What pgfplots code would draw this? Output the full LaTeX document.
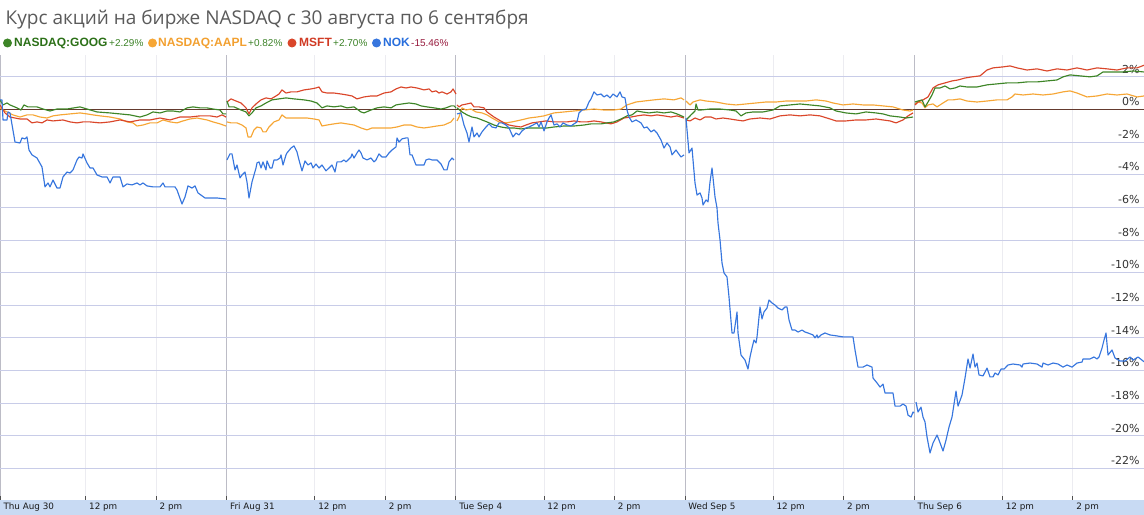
\documentclass[border=0pt]{standalone}
\usepackage{pgfplots}
\pgfplotsset{compat=1.18}
\usepackage{fontspec}
\setmainfont{DejaVu Sans}
\newfontfamily\titlefont{Open Sans}
\newfontfamily\arial{Liberation Sans}
\definecolor{goog}{RGB}{61,133,39}
\definecolor{aapl}{RGB}{246,166,53}
\definecolor{msft}{RGB}{218,70,42}
\definecolor{nok}{RGB}{55,118,222}
\definecolor{googtxt}{RGB}{44,112,24}
\definecolor{aapltxt}{RGB}{242,160,48}
\definecolor{msfttxt}{RGB}{208,58,36}
\definecolor{noktxt}{RGB}{40,110,220}
\definecolor{pctgreen}{RGB}{60,130,40}
\definecolor{pctred}{RGB}{150,25,60}
\definecolor{band}{RGB}{200,218,243}
\definecolor{hgrid}{RGB}{200,204,232}
\definecolor{daygrid}{RGB}{188,188,198}
\definecolor{hourgrid}{RGB}{236,236,241}
\definecolor{zerocol}{RGB}{100,58,46}
\definecolor{tickgray}{RGB}{80,80,80}
\definecolor{titlegray}{RGB}{90,90,90}
\begin{document}
\begin{tikzpicture}[x=1bp,y=1bp]
\fill[band] (0,-15) rectangle (1144,0);
\begin{axis}[
  at={(0,0)}, anchor=south west,
  scale only axis, width=1144bp, height=445bp,
  xmin=0, xmax=1144, ymin=-23.93, ymax=3.33,
  axis line style={draw=none},
  unbounded coords=jump,
  xtick={85.65,156.15,314.8,385.3,543.95,614.45,773.1,843.6,1002.25,1072.75},
  xticklabels={12 pm,2 pm,12 pm,2 pm,12 pm,2 pm,12 pm,2 pm,12 pm,2 pm},
  extra x ticks={0,226.65,455.8,684.95,914.1},
  extra x tick labels={Thu Aug 30,Fri Aug 31,Tue Sep 4,Wed Sep 5,Thu Sep 6},
  extra x tick style={grid=major, major grid style={draw=daygrid, line width=0.8bp}},
  xmajorgrids,
  major grid style={draw=hourgrid, line width=0.8bp},
  xtick pos=left, tick align=inside, major tick length=4bp,
  xtick style={draw=tickgray, line width=0.8bp},
  xticklabel style={font=\fontsize{8.8bp}{10bp}\selectfont, anchor=west, yshift=-7.5bp, text=black!90},
  ytick=\empty,
  extra y ticks={-22,-20,-18,-16,-14,-12,-10,-8,-6,-4,-2,0,2},
  extra y tick labels={-22\%,-20\%,-18\%,-16\%,-14\%,-12\%,-10\%,-8\%,-6\%,-4\%,-2\%,0\%,2\%},
  extra y tick style={grid=major, major grid style={draw=hgrid, line width=0.8bp}, tick style={draw=none}},
  yticklabel pos=right,
  yticklabel style={font=\fontsize{11bp}{12bp}\selectfont, anchor=south east, xshift=-1bp, text=black!80},
  every axis plot/.append style={line width=1.15bp, line join=round},
]
\draw[zerocol, line width=1bp] (axis cs:0,0) -- (axis cs:1144,0);
% AAPL
\addplot[aapl] coordinates {
(0,0.09) (3,-0.04) (7,-0.16) (13,-0.34) (20,-0.47) (27,-0.34) (33,-0.34) (40,-0.47) (47,-0.53) (53,-0.40) (60,-0.34) (70,-0.28) (80,-0.22) (87,-0.28) (93,-0.34) (100,-0.40) (110,-0.47) (120,-0.59) (127,-0.77) (133,-0.83) (137,-1.02) (143,-0.96) (150,-0.83) (157,-0.83) (163,-0.65) (170,-0.77) (177,-0.83) (183,-0.71) (190,-0.59) (197,-0.53) (207,-0.65) (213,-0.77) (220,-0.89) (226,-1.02)
(226.5,nan)
(227,-0.77) (231,-0.83) (237,-0.83) (242,-0.96) (246,-1.14) (248,-1.69) (251,-1.69) (254,-1.26) (257,-1.08) (261,-1.14) (263,-1.38) (266,-1.38) (269,-1.08) (274,-0.77) (279,-0.65) (282,-0.34) (286,-0.53) (291,-0.53) (297,-0.53) (307,-0.53) (314,-0.59) (319,-0.65) (322,-1.02) (327,-0.96) (334,-0.89) (341,-0.83) (347,-0.89) (354,-0.96) (361,-1.14) (367,-1.26) (372,-1.14) (377,-1.14) (384,-1.14) (391,-1.14) (397,-1.08) (404,-0.96) (411,-0.96) (417,-1.08) (424,-1.14) (431,-1.08) (437,-1.02) (444,-0.96) (451,-0.77) (454,-0.53)
(455.5,nan)
(457,-0.71) (459,-0.47) (462,0.09) (466,-0.04) (471,0.02) (476,-0.16) (482,-0.22) (487,-0.34) (492,-0.53) (499,-0.77) (506,-0.83) (512,-0.77) (521,-0.65) (529,-0.53) (537,-0.47) (544,-0.40) (554,-0.22) (564,-0.16) (574,-0.10) (584,-0.04) (594,0.02) (604,-0.04) (614,-0.04) (621,0.02) (627,0.27) (636,0.45) (644,0.51) (654,0.58) (664,0.64) (674,0.58) (681,0.70) (684,0.58)
(685,nan)
(686,0.51) (690,0.27) (693,0.45) (700,0.58) (706,0.51) (716,0.45) (726,0.33) (736,0.27) (746,0.33) (756,0.39) (766,0.45) (776,0.45) (786,0.51) (796,0.51) (806,0.51) (816,0.58) (826,0.51) (833,0.39) (843,0.27) (853,0.33) (863,0.27) (873,0.27) (883,0.21) (893,0.15) (903,-0.04) (910,-0.10) (913,-0.04)
(914,nan)
(915,0.33) (918,0.45) (922,0.39) (925,0.09) (928,0.27) (933,0.33) (937,0.15) (940,0.27) (943,0.39) (948,0.58) (953,0.58) (960,0.64) (967,0.51) (977,0.45) (987,0.51) (997,0.58) (1007,0.58) (1012,0.76) (1015,0.94) (1023,0.88) (1033,0.94) (1043,0.88) (1053,0.94) (1063,1.07) (1070,1.13) (1077,1.00) (1087,0.76) (1097,0.82) (1107,0.94) (1117,0.88) (1127,0.94) (1137,0.76) (1144,0.82)
};
% MSFT
\addplot[msft] coordinates {
(0,0.27) (5,-0.22) (10,-0.47) (20,-0.59) (27,-0.59) (32,-0.83) (37,-0.77) (42,-0.83) (47,-0.65) (53,-0.71) (63,-0.65) (70,-0.77) (77,-0.83) (83,-0.77) (90,-0.77) (100,-0.83) (110,-0.77) (120,-0.65) (130,-0.77) (140,-0.65) (150,-0.65) (160,-0.53) (170,-0.65) (180,-0.47) (190,-0.47) (200,-0.40) (210,-0.40) (217,-0.47) (222,-0.34) (226,-0.47)
(226.5,nan)
(227,0.45) (231,0.64) (236,0.51) (241,0.39) (246,0.09) (249,-0.28) (252,0.09) (256,0.33) (261,0.58) (266,0.70) (271,0.64) (276,0.82) (279,0.94) (282,1.19) (286,1.00) (291,1.07) (297,1.07) (304,1.19) (311,1.25) (316,1.31) (319,1.37) (322,1.07) (327,1.00) (334,1.00) (341,0.94) (347,0.88) (352,0.82) (357,0.64) (364,0.76) (371,0.82) (377,0.82) (384,1.00) (391,1.07) (396,1.25) (401,1.37) (406,1.31) (411,1.37) (417,1.31) (424,1.19) (429,1.25) (432,1.07) (436,1.13) (439,1.00) (442,1.07) (447,0.94) (451,1.07) (453,1.25) (456,0.94)
(456.5,nan)
(457,0.27) (459,0.15) (462,0.27) (467,0.33) (471,0.39) (474,0.15) (479,0.15) (484,0.09) (487,-0.16) (491,-0.34) (494,-0.47) (499,-0.65) (504,-0.83) (509,-0.96) (514,-1.02) (521,-1.08) (526,-0.96) (532,-0.83) (539,-0.77) (546,-0.71) (554,-0.77) (561,-0.77) (567,-0.77) (574,-0.71) (581,-0.77) (587,-0.77) (594,-0.71) (601,-0.77) (606,-0.83) (611,-0.89) (617,-0.77) (624,-0.53) (631,-0.47) (637,-0.40) (644,-0.34) (651,-0.40) (657,-0.34) (664,-0.40) (671,-0.47) (677,-0.40) (684,-0.53)
(685,nan)
(686,-0.65) (690,-0.71) (695,-0.53) (700,-0.65) (705,-0.47) (711,-0.47) (716,-0.59) (723,-0.53) (730,-0.59) (736,-0.65) (743,-0.71) (750,-0.59) (760,-0.53) (770,-0.59) (780,-0.40) (790,-0.34) (800,-0.40) (810,-0.34) (820,-0.40) (830,-0.59) (836,-0.71) (846,-0.71) (856,-0.65) (866,-0.65) (876,-0.59) (883,-0.65) (890,-0.71) (896,-0.83) (903,-0.65) (908,-0.40) (913,-0.22)
(914,nan)
(915,0.27) (918,0.45) (923,0.58) (928,0.76) (933,1.31) (938,1.50) (945,1.62) (952,1.74) (958,1.80) (965,1.92) (972,1.99) (980,2.05) (987,2.41) (993,2.54) (1003,2.60) (1010,2.66) (1017,2.54) (1027,2.41) (1037,2.48) (1047,2.35) (1057,2.48) (1067,2.41) (1077,2.54) (1087,2.41) (1097,2.54) (1107,2.48) (1117,2.41) (1127,2.54) (1137,2.54) (1144,2.70)
};
% GOOG
\addplot[goog] coordinates {
(0,0.58) (3,0.27) (7,0.39) (10,0.27) (17,0.09) (21,-0.04) (24,0.27) (28,0.15) (37,0.15) (43,0.02) (50,-0.10) (57,0.02) (67,0.02) (80,0.15) (87,0.02) (97,-0.16) (110,-0.22) (120,-0.28) (130,-0.34) (140,-0.47) (147,-0.34) (153,-0.16) (160,-0.22) (167,-0.10) (173,-0.10) (180,-0.16) (187,0.09) (193,0.15) (200,0.09) (207,0.09) (213,0.02) (220,-0.04) (223,-0.28) (226,-0.28)
(226.5,nan)
(227,0.51) (229,0.15) (234,0.15) (241,-0.04) (246,-0.16) (249,-0.40) (252,-0.22) (256,0.09) (261,0.21) (266,0.39) (272,0.58) (279,0.64) (286,0.70) (294,0.64) (304,0.58) (311,0.51) (317,0.39) (322,0.09) (327,0.21) (334,0.15) (341,0.21) (347,0.09) (354,0.15) (361,-0.16) (364,-0.22) (371,-0.04) (377,0.09) (384,0.15) (391,0.09) (396,0.27) (402,0.33) (409,0.39) (416,0.33) (421,0.21) (427,0.15) (434,0.09) (441,0.02) (446,0.09) (451,0.21) (454,0.21) (456,0.09)
(456.5,nan)
(457,0.09) (462,-0.16) (467,-0.34) (472,-0.47) (477,-0.53) (482,-0.65) (487,-0.77) (494,-0.96) (501,-1.08) (507,-1.14) (514,-1.14) (521,-1.20) (529,-1.14) (537,-1.14) (547,-1.14) (554,-1.08) (564,-1.02) (574,-1.02) (584,-0.96) (591,-0.89) (601,-0.89) (607,-0.83) (614,-0.77) (621,-0.59) (627,-0.40) (632,-0.34) (637,-0.10) (642,-0.16) (649,-0.22) (657,-0.16) (664,-0.22) (671,-0.16) (677,-0.28) (684,-0.47)
(685,nan)
(686,-0.65) (688,-0.53) (691,-0.34) (695,-0.10) (696,0.33) (698,-0.04) (701,-0.04) (710,0.02) (720,0.02) (730,-0.04) (736,-0.10) (741,-0.40) (746,-0.22) (753,-0.16) (763,-0.16) (773,-0.04) (780,0.21) (790,0.27) (800,0.33) (810,0.27) (820,0.21) (830,0.09) (836,-0.10) (846,-0.22) (856,-0.28) (866,-0.16) (876,-0.22) (883,-0.28) (890,-0.40) (900,-0.47) (906,-0.53) (913,-0.47)
(914,nan)
(915,0.45) (918,0.51) (922,0.58) (925,0.15) (928,0.45) (932,0.88) (935,1.31) (940,1.31) (945,1.43) (950,1.25) (955,1.31) (960,1.43) (967,1.37) (977,1.37) (987,1.50) (997,1.56) (1007,1.62) (1017,1.62) (1027,1.68) (1037,1.68) (1047,1.74) (1057,1.80) (1063,1.99) (1070,2.11) (1080,2.05) (1090,1.99) (1097,2.05) (1103,2.29) (1113,2.29) (1123,2.29) (1133,2.35) (1144,2.29)
};
% NOK
\addplot[nok] coordinates {
(0,0.58) (2,0.58) (3,-0.65) (7,-0.65) (8,-0.16) (10,-0.22) (15,-2.00) (20,-2.06) (22,-1.75) (25,-1.81) (27,-1.69) (29,-2.49) (32,-2.79) (37,-2.98) (42,-3.53) (45,-4.75) (48,-4.51) (50,-4.75) (53,-4.33) (57,-4.82) (60,-4.82) (63,-4.14) (67,-3.84) (70,-3.90) (73,-3.71) (77,-3.10) (79,-2.92) (82,-2.98) (83,-2.73) (87,-3.28) (90,-3.59) (93,-3.59) (97,-4.02) (102,-4.14) (107,-4.14) (110,-4.51) (113,-4.14) (118,-4.14) (120,-4.14) (123,-4.75) (127,-4.57) (132,-4.63) (137,-4.51) (140,-4.63) (143,-4.51) (147,-4.69) (153,-4.75) (160,-4.75) (163,-4.51) (165,-4.75) (175,-4.75) (177,-4.94) (182,-5.80) (185,-5.37) (188,-4.69) (192,-4.82) (195,-4.69) (198,-5.12) (205,-5.43) (217,-5.43) (226,-5.49)
(226.5,nan)
(227,-3.10) (230,-2.73) (232,-2.73) (235,-3.71) (237,-3.41) (240,-4.20) (242,-4.02) (245,-3.84) (247,-4.45) (249,-5.43) (252,-4.45) (256,-3.59) (257,-3.28) (259,-3.22) (261,-3.59) (263,-3.22) (266,-3.71) (267,-3.16) (270,-3.59) (272,-3.59) (274,-3.10) (277,-3.10) (280,-2.98) (281,-2.79) (283,-3.41) (286,-2.79) (287,-2.67) (291,-2.37) (294,-2.24) (297,-2.61) (299,-3.10) (302,-3.77) (305,-3.16) (308,-3.41) (311,-3.28) (313,-3.59) (316,-3.35) (319,-3.59) (322,-3.41) (326,-3.77) (329,-3.59) (332,-3.41) (335,-3.84) (337,-3.22) (341,-3.22) (344,-3.10) (346,-3.22) (348,-3.10) (351,-2.92) (352,-2.73) (354,-2.98) (357,-2.67) (359,-2.49) (361,-2.67) (363,-2.98) (367,-3.10) (371,-2.98) (374,-3.22) (376,-3.10) (379,-2.73) (382,-2.92) (386,-2.92) (389,-2.67) (392,-2.49) (396,-2.30) (397,-1.75) (399,-2.00) (402,-1.81) (406,-1.75) (408,-1.75) (410,-2.79) (412,-2.79) (414,-3.10) (416,-3.41) (424,-3.41) (426,-3.10) (429,-3.04) (432,-3.10) (437,-3.10) (441,-3.35) (444,-3.71) (447,-3.71) (449,-3.22) (452,-2.98) (454,-3.10)
(455.5,nan)
(457,-0.28) (461,-0.22) (464,-0.96) (467,-1.45) (469,-2.00) (471,-1.38) (472,-1.08) (474,-1.69) (477,-1.45) (479,-1.69) (482,-1.38) (486,-1.08) (489,-0.89) (492,-1.08) (496,-1.14) (499,-0.83) (502,-0.83) (506,-0.96) (509,-1.14) (513,-1.69) (516,-1.45) (519,-1.57) (522,-1.32) (526,-1.14) (529,-1.08) (533,-0.96) (537,-0.83) (539,-1.08) (541,-0.77) (544,-1.32) (547,-0.77) (549,-0.53) (551,-0.34) (554,-0.96) (557,-0.89) (560,-1.08) (563,-0.83) (567,-0.96) (571,-1.02) (574,-0.89) (577,-0.77) (579,-0.22) (582,-0.04) (586,0.02) (589,0.45) (591,0.64) (594,1.07) (597,0.88) (601,0.94) (604,0.76) (607,0.88) (610,0.70) (613,0.94) (617,0.76) (620,1.07) (622,0.76) (625,0.70) (627,-0.04) (629,-0.47) (632,-0.77) (636,-0.65) (641,-0.83) (644,-1.14) (647,-1.08) (651,-1.38) (654,-1.26) (657,-1.45) (661,-1.88) (664,-2.37) (667,-2.06) (670,-2.30) (672,-2.79) (676,-2.49) (678,-2.67) (681,-2.92) (684,-2.79)
(685,nan)
(686,-0.53) (687,-1.26) (689,-2.67) (692,-2.37) (693,-3.10) (695,-4.51) (697,-5.25) (700,-5.12) (702,-5.43) (703,-5.86) (706,-5.55) (708,-5.67) (710,-4.45) (712,-3.59) (715,-5.37) (717,-6.04) (718,-6.96) (720,-8.00) (722,-9.41) (724,-10.02) (727,-10.27) (729,-11.50) (732,-13.70) (734,-13.70) (737,-12.41) (738,-13.70) (741,-15.05) (745,-15.36) (748,-15.91) (750,-15.17) (752,-14.62) (754,-14.13) (756,-14.31) (757,-13.94) (760,-12.11) (762,-12.84) (764,-12.41) (767,-12.17) (769,-11.68) (772,-11.86) (775,-11.99) (778,-12.17) (782,-12.29) (785,-12.11) (787,-12.11) (789,-12.90) (792,-13.52) (795,-13.52) (798,-13.64) (802,-13.52) (805,-13.64) (808,-13.70) (813,-13.82) (815,-14.00) (817,-13.82) (818,-14.00) (821,-13.82) (825,-13.70) (830,-13.82) (837,-13.88) (843,-13.94) (850,-13.94) (853,-13.94) (855,-14.74) (858,-15.79) (863,-15.79) (867,-15.66) (872,-15.79) (873,-16.46) (877,-16.76) (880,-17.01) (883,-16.83) (885,-17.38) (893,-17.38) (895,-18.18) (900,-18.18) (903,-18.05) (906,-18.18) (908,-18.73) (911,-18.85) (913,-18.54) (914,-18.60)
(915,nan)
(916,-17.93) (918,-18.54) (921,-18.24) (923,-18.85) (925,-19.15) (927,-20.07) (930,-21.05) (933,-20.44) (937,-19.95) (939,-20.26) (943,-20.93) (946,-20.26) (949,-19.46) (952,-18.85) (956,-17.26) (958,-18.18) (962,-17.50) (965,-16.46) (968,-15.29) (970,-15.85) (973,-14.99) (975,-15.79) (977,-15.54) (979,-16.27) (983,-16.33) (987,-15.85) (990,-16.39) (993,-16.39) (995,-16.15) (998,-16.27) (1001,-15.91) (1004,-15.91) (1008,-15.66) (1013,-15.60) (1020,-15.66) (1022,-15.79) (1023,-15.60) (1030,-15.54) (1037,-15.60) (1042,-15.79) (1043,-15.54) (1048,-15.66) (1053,-15.54) (1058,-15.60) (1063,-15.79) (1067,-15.66) (1072,-15.79) (1077,-15.54) (1082,-15.48) (1083,-15.29) (1090,-15.29) (1094,-15.17) (1097,-15.29) (1099,-15.17) (1102,-14.62) (1104,-14.13) (1106,-13.70) (1108,-15.05) (1112,-14.74) (1115,-15.23) (1120,-15.42) (1125,-15.42) (1130,-15.17) (1133,-15.36) (1138,-15.17) (1144,-15.46)
};
\end{axis}
% title
\node[anchor=base west, inner sep=0, text=titlegray, font=\titlefont\fontsize{19bp}{21bp}\selectfont] at (5.5,475) {Курс акций на бирже NASDAQ с 30 августа по 6 сентября};
% legend
\fill[goog] (7.5,457) circle (4.5);
\node[anchor=base west, inner sep=0, text=googtxt, font=\arial\bfseries\fontsize{12bp}{13bp}\selectfont] at (14,453) {NASDAQ:GOOG};
\node[anchor=base west, inner sep=0, text=pctgreen, font=\arial\fontsize{10bp}{11bp}\selectfont] at (109,453) {+2.29\%};
\fill[aapl] (152.5,457) circle (4.5);
\node[anchor=base west, inner sep=0, text=aapltxt, font=\arial\bfseries\fontsize{12bp}{13bp}\selectfont] at (158,453) {NASDAQ:AAPL};
\node[anchor=base west, inner sep=0, text=pctgreen, font=\arial\fontsize{10bp}{11bp}\selectfont] at (248,453) {+0.82\%};
\fill[msft] (292,457) circle (4.5);
\node[anchor=base west, inner sep=0, text=msfttxt, font=\arial\bfseries\fontsize{12bp}{13bp}\selectfont] at (299,453) {MSFT};
\node[anchor=base west, inner sep=0, text=pctgreen, font=\arial\fontsize{10bp}{11bp}\selectfont] at (333,453) {+2.70\%};
\fill[nok] (376.5,457) circle (4.5);
\node[anchor=base west, inner sep=0, text=noktxt, font=\arial\bfseries\fontsize{12bp}{13bp}\selectfont] at (383,453) {NOK};
\node[anchor=base west, inner sep=0, text=pctred, font=\arial\fontsize{10bp}{11bp}\selectfont] at (411,453) {-15.46\%};
\pgfresetboundingbox
\useasboundingbox (0,-15) rectangle (1144,500);
\end{tikzpicture}
\end{document}
